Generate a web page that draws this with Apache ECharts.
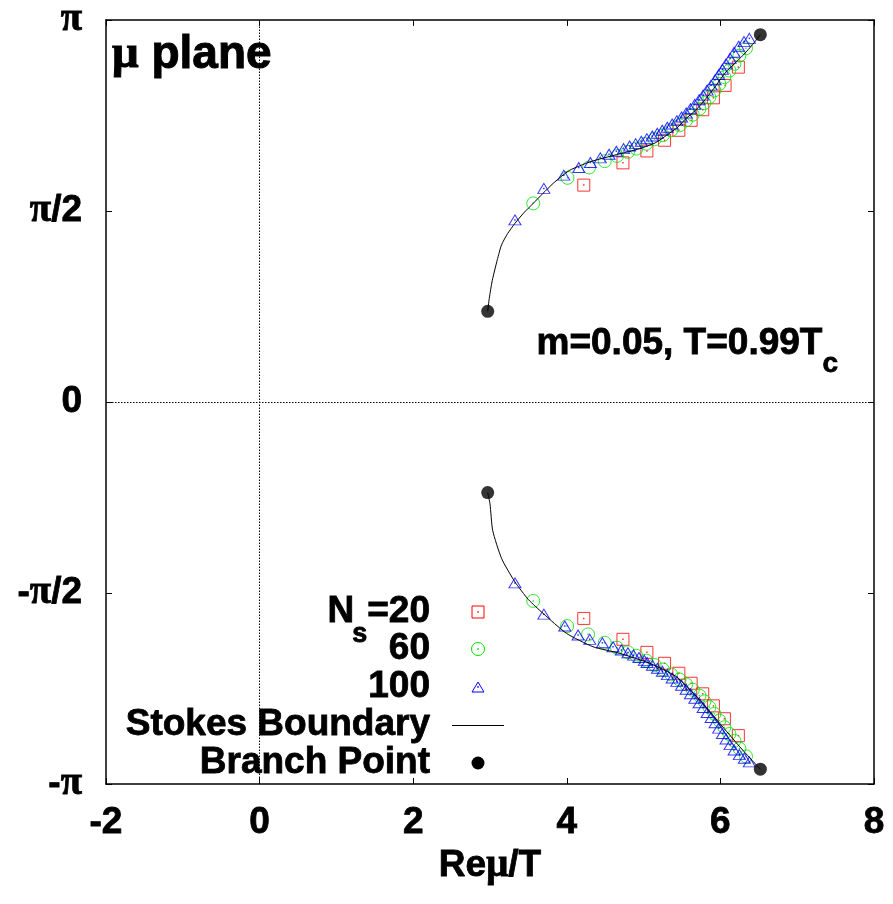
<!DOCTYPE html>
<html>
<head>
<meta charset="utf-8">
<script src="https://cdn.jsdelivr.net/npm/echarts@6/dist/echarts.min.js"></script>
<style>html,body{margin:0;padding:0;background:#fff}#c{width:893px;height:904px}</style>
</head>
<body>
<div id="c"></div>
<script>
// ---- data ----
var xTicks = [-2, 0, 2, 4, 6, 8];
var yTickLabels = ['-π', '-π/2', '0', 'π/2', 'π'];

var branchX = [2.97, 2.97, 6.52, 6.52];
var branchY = [0.745, -0.745, 3.02, -3.02];

var stokesUpX = [2.97, 2.99, 3.03, 3.095, 3.15, 3.23, 3.325, 3.44, 3.563, 3.69, 3.822, 3.93, 4.04, 4.30, 4.65, 4.95, 5.15, 5.30, 5.45, 5.55, 5.68, 5.81, 5.94, 6.07, 6.18, 6.29, 6.38, 6.46, 6.52];
var stokesUpY = [0.745, 0.85, 1.00, 1.169, 1.292, 1.385, 1.469, 1.555, 1.633, 1.715, 1.797, 1.855, 1.906, 1.974, 2.034, 2.083, 2.13, 2.193, 2.262, 2.329, 2.40, 2.493, 2.60, 2.712, 2.78, 2.848, 2.91, 2.971, 3.02];
var stokesLoX = [2.97, 3.00, 3.035, 3.152, 3.325, 3.50, 3.692, 3.996, 4.342, 4.688, 5.078, 5.424, 5.727, 5.987, 6.247, 6.463, 6.52];
var stokesLoY = [-0.745, -0.838, -1.057, -1.289, -1.480, -1.625, -1.739, -1.903, -2.013, -2.067, -2.149, -2.258, -2.449, -2.640, -2.832, -2.982, -3.02];

var ns20UpX = [4.221, 4.731, 5.043, 5.273, 5.459, 5.619, 5.770, 5.909, 6.061, 6.234];
var ns20UpY = [1.783, 1.966, 2.064, 2.152, 2.234, 2.316, 2.403, 2.501, 2.603, 2.753];
var ns20LoX = [4.221, 4.731, 5.043, 5.273, 5.459, 5.619, 5.770, 5.909, 6.052, 6.234];
var ns20LoY = [-1.780, -1.952, -2.059, -2.149, -2.231, -2.313, -2.400, -2.499, -2.605, -2.744];

var ns60UpX = [3.563, 4.009, 4.290, 4.494, 4.654, 4.796, 4.905, 5.035, 5.143, 5.251, 5.359, 5.468, 5.554, 5.640, 5.727, 5.792, 5.857, 5.922, 5.987, 6.052, 6.117, 6.182, 6.247, 6.333];
var ns60UpY = [1.633, 1.843, 1.928, 1.980, 2.023, 2.056, 2.083, 2.124, 2.160, 2.193, 2.234, 2.275, 2.316, 2.362, 2.411, 2.458, 2.507, 2.562, 2.616, 2.671, 2.725, 2.780, 2.848, 2.908];
var ns60LoX = [3.563, 4.004, 4.277, 4.494, 4.654, 4.796, 4.905, 5.035, 5.143, 5.251, 5.359, 5.468, 5.554, 5.640, 5.727, 5.792, 5.857, 5.922, 5.987, 6.052, 6.117, 6.182, 6.247, 6.333];
var ns60LoY = [-1.636, -1.843, -1.911, -1.980, -2.021, -2.058, -2.087, -2.127, -2.163, -2.200, -2.240, -2.282, -2.322, -2.367, -2.415, -2.462, -2.510, -2.565, -2.620, -2.675, -2.730, -2.786, -2.850, -2.914];

var ns100UpX = [3.325, 3.701, 3.961, 4.156, 4.307, 4.437, 4.550, 4.645, 4.740, 4.818, 4.896, 4.970, 5.043, 5.113, 5.178, 5.243, 5.308, 5.372, 5.433, 5.494, 5.554, 5.610, 5.667, 5.723, 5.775, 5.827, 5.879, 5.931, 5.978, 6.026, 6.074, 6.126, 6.178, 6.238, 6.308, 6.377];
var ns100UpY = [1.497, 1.756, 1.865, 1.928, 1.969, 2.007, 2.037, 2.062, 2.083, 2.105, 2.124, 2.144, 2.165, 2.187, 2.209, 2.234, 2.259, 2.286, 2.313, 2.343, 2.376, 2.411, 2.447, 2.485, 2.523, 2.564, 2.605, 2.649, 2.693, 2.736, 2.780, 2.826, 2.875, 2.925, 2.963, 2.990];
var ns100LoX = [3.325, 3.701, 3.974, 4.147, 4.299, 4.463, 4.602, 4.710, 4.796, 4.870, 4.940, 5.010, 5.045, 5.115, 5.180, 5.245, 5.310, 5.372, 5.433, 5.494, 5.554, 5.610, 5.667, 5.723, 5.775, 5.827, 5.879, 5.931, 5.978, 6.026, 6.074, 6.126, 6.178, 6.247, 6.312, 6.377];
var ns100LoY = [-1.488, -1.745, -1.843, -1.917, -1.952, -1.980, -2.013, -2.040, -2.062, -2.082, -2.102, -2.125, -2.142, -2.165, -2.190, -2.215, -2.242, -2.270, -2.298, -2.330, -2.363, -2.400, -2.436, -2.473, -2.512, -2.553, -2.595, -2.638, -2.682, -2.727, -2.772, -2.818, -2.862, -2.900, -2.930, -2.960];

// ---- helpers ----
function zip(xs, ys) { return xs.map(function (x, i) { return [x, ys[i]]; }); }
var FONT = '"Liberation Sans", Arial, sans-serif';
var SERIF = '"Liberation Serif", "DejaVu Serif", serif';
var RED = '#ff0000', GREEN = '#00e000', BLUE = '#0000ff';
var HALF = Math.PI / 2;
var STROKE = { textBorderColor: '#000', textBorderWidth: 0.8 };

function markerSeries(data, symbol, size, color) {
  return [{
    type: 'scatter', data: data, symbol: symbol, symbolSize: size, z: 3,
    itemStyle: { color: 'rgba(0,0,0,0)', borderColor: color, borderWidth: 1 }
  }, {
    type: 'scatter', data: data, symbol: 'rect', symbolSize: 1.5, z: 3,
    itemStyle: { color: color }
  }];
}

var series = [];
series = series.concat(markerSeries(zip(ns20UpX, ns20UpY).concat(zip(ns20LoX, ns20LoY)), 'rect', 12, RED));
series = series.concat(markerSeries(zip(ns60UpX, ns60UpY).concat(zip(ns60LoX, ns60LoY)), 'circle', 13, GREEN));
series = series.concat(markerSeries(zip(ns100UpX, ns100UpY).concat(zip(ns100LoX, ns100LoY)), 'triangle', [12, 10], BLUE));
series.push({
  type: 'line', data: zip(stokesUpX, stokesUpY), showSymbol: false, smooth: 0.2, z: 4,
  lineStyle: { color: '#000', width: 1 },
  markLine: {
    silent: true, symbol: 'none', label: { show: false },
    lineStyle: { color: '#000', width: 1, type: [1.5, 1.5] },
    data: [{ xAxis: 0 }, { yAxis: 0 }]
  }
});
series.push({
  type: 'line', data: zip(stokesLoX, stokesLoY), showSymbol: false, smooth: 0.2, z: 4,
  lineStyle: { color: '#000', width: 1 }
});
series.push({
  type: 'scatter', data: zip(branchX, branchY), symbol: 'circle', symbolSize: 13, z: 5,
  itemStyle: { color: '#000' }
});

// legend (drawn as graphic, right-aligned texts)
var lgTextRight = 430, lgSymX = 478;
var lgRows = [612, 649, 687, 725, 763];
var lgLabels = ['N{s|s}=20', '60', '100', 'Stokes Boundary', 'Branch Point'];
var graphics = [];
lgLabels.forEach(function (t, i) {
  graphics.push({
    type: 'text', x: lgTextRight, y: lgRows[i], z: 10,
    style: {
      text: t, textAlign: 'right', textVerticalAlign: 'middle',
      font: 'bold 37px ' + FONT, fill: '#000', stroke: '#000', lineWidth: 0.8,
      rich: { s: { font: 'bold 27px ' + FONT, verticalAlign: 'bottom', padding: [0, 0, -18, -2] } }
    }
  });
});
graphics.push({ type: 'rect', shape: { x: lgSymX - 6, y: lgRows[0] - 6, width: 12, height: 12 }, style: { fill: 'none', stroke: RED, lineWidth: 1 }, z: 10 });
graphics.push({ type: 'rect', shape: { x: lgSymX - 0.75, y: lgRows[0] - 0.75, width: 1.5, height: 1.5 }, style: { fill: RED }, z: 10 });
graphics.push({ type: 'circle', shape: { cx: lgSymX, cy: lgRows[1], r: 6.5 }, style: { fill: 'none', stroke: GREEN, lineWidth: 1 }, z: 10 });
graphics.push({ type: 'rect', shape: { x: lgSymX - 0.75, y: lgRows[1] - 0.75, width: 1.5, height: 1.5 }, style: { fill: GREEN }, z: 10 });
graphics.push({ type: 'polygon', shape: { points: [[lgSymX, lgRows[2] - 5], [lgSymX + 6, lgRows[2] + 5], [lgSymX - 6, lgRows[2] + 5]] }, style: { fill: 'none', stroke: BLUE, lineWidth: 1 }, z: 10 });
graphics.push({ type: 'rect', shape: { x: lgSymX - 0.75, y: lgRows[2] - 0.75, width: 1.5, height: 1.5 }, style: { fill: BLUE }, z: 10 });
graphics.push({ type: 'line', shape: { x1: lgSymX - 26, y1: lgRows[3] + 0.5, x2: lgSymX + 26, y2: lgRows[3] + 0.5 }, style: { stroke: '#000', lineWidth: 1 }, z: 10 });
graphics.push({ type: 'circle', shape: { cx: lgSymX, cy: lgRows[4], r: 6.5 }, style: { fill: '#000' }, z: 10 });

// annotations
graphics.push({
  type: 'text', x: 112, y: 55, z: 10,
  style: {
    text: '{g|μ} plane', textVerticalAlign: 'middle',
    font: 'bold 46px ' + FONT, fill: '#000', stroke: '#000', lineWidth: 1,
    rich: { g: { fontFamily: SERIF, fontWeight: 'bold', fontSize: 47 } }
  }
});
graphics.push({
  type: 'text', x: 838, y: 344, z: 10,
  style: {
    text: 'm=0.05, T=0.99T{s|c}', textAlign: 'right', textVerticalAlign: 'middle',
    font: 'bold 37px ' + FONT, fill: '#000', stroke: '#000', lineWidth: 0.8,
    rich: { s: { font: 'bold 28px ' + FONT, verticalAlign: 'bottom', padding: [0, 0, -16, 0] } }
  }
});

var axisCommon = {
  axisLine: { show: true, onZero: false, lineStyle: { color: '#000', width: 1.5 } },
  axisTick: { show: true, inside: true, length: 6, lineStyle: { color: '#000', width: 1 } },
  splitLine: { show: false }
};

var option = {
  animation: false,
  backgroundColor: '#fff',
  grid: { left: 106, right: 19, top: 18, bottom: 120, containLabel: false },
  xAxis: [
    Object.assign({
      type: 'value', position: 'bottom', min: xTicks[0], max: xTicks[xTicks.length - 1], interval: 2,
      name: 'Re{g|μ}/T', nameLocation: 'middle', nameGap: 53,
      nameTextStyle: Object.assign({ fontFamily: FONT, fontWeight: 'bold', fontSize: 37, color: '#000', rich: { g: { fontFamily: SERIF, fontWeight: 'bold', fontSize: 39, textBorderColor: '#000', textBorderWidth: 0.8 } } }, STROKE),
      axisLabel: Object.assign({ margin: 20, fontFamily: FONT, fontWeight: 'bold', fontSize: 37, color: '#000',
        formatter: function (v) { return String(v); } }, STROKE)
    }, axisCommon),
    Object.assign({
      type: 'value', position: 'top', min: xTicks[0], max: xTicks[xTicks.length - 1], interval: 2,
      axisLabel: { show: false }
    }, axisCommon)
  ],
  yAxis: [
    Object.assign({
      type: 'value', position: 'left', min: -Math.PI, max: Math.PI, interval: HALF,
      axisLabel: Object.assign({
        margin: 24, fontFamily: FONT, fontWeight: 'bold', fontSize: 37, color: '#000',
        rich: { g: { fontFamily: SERIF, fontWeight: 'bold', fontSize: 39, color: '#000', textBorderColor: '#000', textBorderWidth: 0.8 } },
        formatter: function (v) {
          var s = yTickLabels[Math.round(v / HALF) + 2];
          return s.replace('π', '{g|π}');
        }
      }, STROKE)
    }, axisCommon),
    Object.assign({
      type: 'value', position: 'right', min: -Math.PI, max: Math.PI, interval: HALF,
      axisLabel: { show: false }
    }, axisCommon)
  ],
  series: series,
  graphic: graphics
};

var chart = echarts.init(document.getElementById('c'), null, { renderer: 'canvas' });
chart.setOption(option);
</script>
</body>
</html>
